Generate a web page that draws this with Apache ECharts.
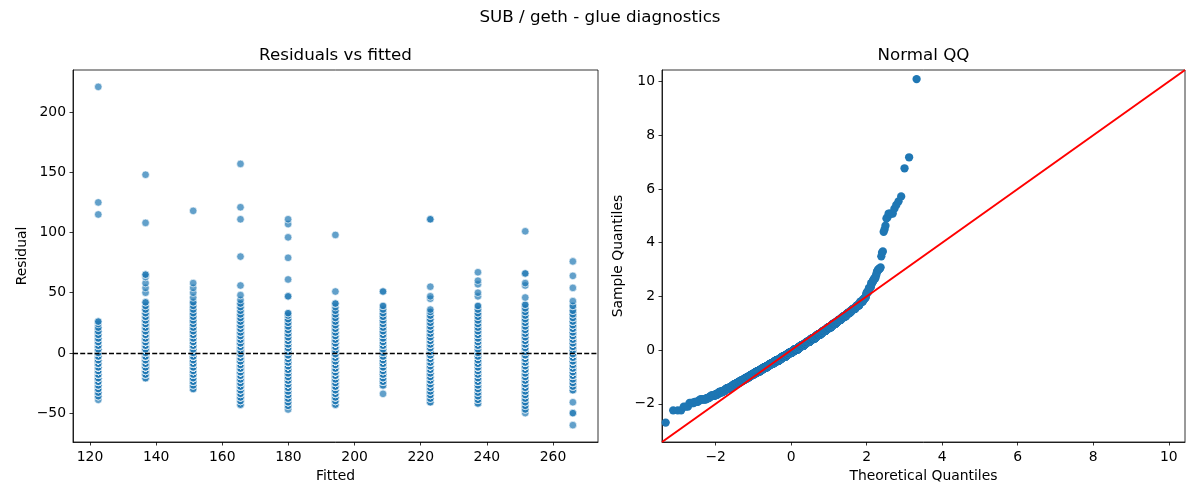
<!DOCTYPE html>
<html>
<head>
<meta charset="utf-8">
<script src="https://cdn.jsdelivr.net/npm/echarts@6/dist/echarts.min.js"></script>
<style>
html, body {margin: 0; padding: 0; background: #fff;}
#chart {width: 1200px; height: 500px;}
</style>
</head>
<body>
<div id="chart"></div>
<script>
// fitted value of every column in the left panel
const fitted = [122.5, 136.8, 151.2, 165.5, 179.9, 194.2, 208.6, 222.9, 237.3, 251.6, 266.0]

// residuals of each column, as [residual, number of points at that level]
const res122 = [[-39, 1], [-36, 2], [-33, 3], [-30, 4], [-27, 6], [-24, 8], [-21, 10], [-18, 12], [-15, 14], [-12, 15], [-9, 16], [-6, 16], [-3, 15], [0, 14], [3, 12], [6, 10], [9, 8], [12, 6], [15, 4], [18, 3], [21, 2], [24, 1], [26, 2], [115, 1], [125, 1], [221, 1]]
const res137 = [[-21, 2], [-18, 4], [-15, 6], [-12, 8], [-9, 10], [-6, 12], [-3, 14], [0, 15], [3, 15], [6, 15], [9, 14], [12, 13], [15, 12], [18, 10], [21, 9], [24, 8], [27, 6], [30, 5], [33, 4], [36, 3], [39, 2], [42, 2], [50, 1], [54, 1], [58, 1], [63, 1], [65, 2], [108, 1], [148, 1]]
const res151 = [[-30, 2], [-27, 3], [-24, 5], [-21, 7], [-18, 9], [-15, 11], [-12, 13], [-9, 14], [-6, 15], [-3, 15], [0, 15], [3, 14], [6, 13], [9, 12], [12, 10], [15, 9], [18, 8], [21, 6], [24, 5], [27, 4], [30, 3], [33, 3], [36, 2], [39, 2], [42, 2], [46, 1], [50, 1], [54, 1], [58, 1], [118, 1]]
const res166 = [[-43, 2], [-40, 3], [-37, 4], [-34, 5], [-31, 6], [-28, 7], [-25, 8], [-22, 9], [-19, 10], [-16, 11], [-13, 12], [-10, 12], [-7, 12], [-4, 12], [-1, 12], [2, 11], [5, 10], [8, 9], [11, 8], [14, 7], [17, 6], [20, 5], [23, 5], [26, 4], [29, 3], [32, 3], [35, 2], [38, 2], [41, 2], [44, 1], [48, 1], [56, 1], [80, 1], [111, 1], [121, 1], [157, 1]]
const res180 = [[-47, 1], [-44, 2], [-41, 4], [-38, 5], [-35, 6], [-32, 7], [-29, 8], [-26, 9], [-23, 10], [-20, 11], [-17, 12], [-14, 13], [-11, 13], [-8, 13], [-5, 13], [-2, 12], [1, 11], [4, 10], [7, 9], [10, 8], [13, 7], [16, 6], [19, 5], [22, 4], [25, 3], [28, 3], [31, 2], [33, 2], [47, 2], [61, 1], [79, 1], [96, 1], [107, 1], [111, 1]]
const res194 = [[-43, 2], [-40, 3], [-37, 4], [-34, 5], [-31, 6], [-28, 7], [-25, 8], [-22, 9], [-19, 10], [-16, 11], [-13, 12], [-10, 12], [-7, 13], [-4, 13], [-1, 12], [2, 11], [5, 10], [8, 9], [11, 8], [14, 7], [17, 6], [20, 5], [23, 4], [26, 3], [29, 3], [32, 2], [35, 2], [38, 1], [41, 2], [51, 1], [98, 1]]
const res209 = [[-34, 1], [-27, 2], [-24, 4], [-21, 6], [-18, 8], [-15, 10], [-12, 12], [-9, 13], [-6, 14], [-3, 14], [0, 14], [3, 13], [6, 12], [9, 11], [12, 10], [15, 9], [18, 8], [21, 7], [24, 6], [27, 5], [30, 4], [33, 3], [36, 2], [39, 2], [51, 2]]
const res223 = [[-41, 2], [-38, 3], [-35, 4], [-32, 5], [-29, 6], [-26, 7], [-23, 8], [-20, 9], [-17, 10], [-14, 11], [-11, 12], [-8, 12], [-5, 12], [-2, 12], [1, 12], [4, 11], [7, 10], [10, 9], [13, 8], [16, 7], [19, 6], [22, 5], [25, 4], [28, 3], [31, 3], [34, 2], [36, 1], [45, 1], [47, 1], [55, 1], [111, 2]]
const res237 = [[-42, 2], [-39, 3], [-36, 4], [-33, 5], [-30, 6], [-27, 7], [-24, 8], [-21, 9], [-18, 10], [-15, 11], [-12, 12], [-9, 12], [-6, 12], [-3, 12], [0, 12], [3, 11], [6, 10], [9, 9], [12, 9], [15, 8], [18, 7], [21, 6], [24, 5], [27, 4], [30, 3], [33, 3], [36, 2], [39, 2], [47, 1], [50, 1], [57, 1], [60, 1], [67, 1]]
const res252 = [[-50, 1], [-47, 2], [-44, 2], [-41, 3], [-38, 4], [-35, 5], [-32, 6], [-29, 7], [-26, 8], [-23, 9], [-20, 10], [-17, 11], [-14, 11], [-11, 12], [-8, 12], [-5, 12], [-2, 12], [1, 11], [4, 11], [7, 10], [10, 9], [13, 8], [16, 7], [19, 6], [22, 5], [25, 4], [28, 4], [31, 3], [34, 3], [37, 2], [40, 2], [46, 1], [56, 1], [58, 1], [66, 2], [101, 1]]
const res266 = [[-60, 1], [-50, 2], [-41, 1], [-31, 2], [-28, 3], [-25, 5], [-22, 7], [-19, 9], [-16, 11], [-13, 12], [-10, 13], [-7, 14], [-4, 14], [-1, 14], [2, 13], [5, 12], [8, 11], [11, 10], [14, 9], [17, 8], [20, 7], [23, 6], [26, 5], [29, 4], [32, 3], [35, 2], [39, 2], [43, 1], [54, 1], [64, 1], [76, 1]]
const residualGroups = [res122, res137, res151, res166, res180, res194, res209, res223, res237, res252, res266]

// tick labels
const fittedTicks = [120, 140, 160, 180, 200, 220, 240, 260]
const residualTicks = [-50, 0, 50, 100, 150, 200]
const qqTicks = [-2, 0, 2, 4, 6, 8, 10]

// axis ranges
const fittedRange = [114.86, 273.6]
const residualRange = [-74, 235]
const qqRange = [-3.42, 10.43]

const FONT = 'DejaVu Sans'

// points of the left panel, one per observation
const scatterData = []
const allResiduals = []
residualGroups.forEach((group, i) => {
    group.forEach(([r, count]) => {
        for (let k = 0; k < count; k++) {
            scatterData.push([fitted[i], r])
            allResiduals.push(r)
        }
    })
})

// inverse normal cdf (Acklam)
const normPpf = p => {
    const a = [-3.969683028665376e+01, 2.209460984245205e+02, -2.759285104469687e+02, 1.383577518672690e+02, -3.066479806614716e+01, 2.506628277459239e+00]
    const b = [-5.447609879822406e+01, 1.615858368580409e+02, -1.556989798598866e+02, 6.680131188771972e+01, -1.328068155288572e+01]
    const c = [-7.784894002430293e-03, -3.223964580411365e-01, -2.400758277161838e+00, -2.549732539343734e+00, 4.374664141464968e+00, 2.938163982698783e+00]
    const d = [7.784695709041462e-03, 3.224671290700398e-01, 2.445134137142996e+00, 3.754408661907416e+00]
    const pl = 0.02425
    if (p < pl) {
        const q = Math.sqrt(-2 * Math.log(p))
        return (((((c[0] * q + c[1]) * q + c[2]) * q + c[3]) * q + c[4]) * q + c[5]) / ((((d[0] * q + d[1]) * q + d[2]) * q + d[3]) * q + 1)
    }
    if (p > 1 - pl) {
        const q = Math.sqrt(-2 * Math.log(1 - p))
        return -(((((c[0] * q + c[1]) * q + c[2]) * q + c[3]) * q + c[4]) * q + c[5]) / ((((d[0] * q + d[1]) * q + d[2]) * q + d[3]) * q + 1)
    }
    const q = p - 0.5
    const r = q * q
    return (((((a[0] * r + a[1]) * r + a[2]) * r + a[3]) * r + a[4]) * r + a[5]) * q / (((((b[0] * r + b[1]) * r + b[2]) * r + b[3]) * r + b[4]) * r + 1)
}

// QQ points: standardized sorted residuals against normal quantiles
const n = allResiduals.length
const mean = allResiduals.reduce((s, v) => s + v, 0) / n
const sd = Math.sqrt(allResiduals.reduce((s, v) => s + (v - mean) ** 2, 0) / (n - 1))
const sorted = allResiduals.slice().sort((x, y) => x - y)
const qqData = sorted.map((v, i) => [normPpf((i + 1) / (n + 1)), (v - mean) / sd])

const minus = v => String(v).replace('-', '\u2212')

const axisCommon = {
    type: 'value',
    splitLine: {show: false},
    axisLine: {show: true, onZero: false, lineStyle: {color: '#000', width: 0.8}},
    nameLocation: 'middle',
    nameTextStyle: {color: '#000', fontSize: 13.9, fontFamily: FONT},
}
const tickStyle = ticks => ({show: true, length: 3.5, customValues: ticks, lineStyle: {color: '#000', width: 0.8}})
const labelStyle = (ticks, margin) => ({customValues: ticks, color: '#000', fontSize: 13.9, fontFamily: FONT, margin, formatter: minus})

const chart = echarts.init(document.getElementById('chart'))
chart.setOption({
    animation: false,
    backgroundColor: '#fff',
    graphic: [
        {type: 'text', x: 600, y: 18, style: {text: 'SUB / geth - glue diagnostics', align: 'center', verticalAlign: 'middle', font: '16.7px "DejaVu Sans"', fill: '#000'}},
        {type: 'text', x: 335.5, y: 56, style: {text: 'Residuals vs fitted', align: 'center', verticalAlign: 'middle', font: '16.7px "DejaVu Sans"', fill: '#000'}},
        {type: 'text', x: 923.5, y: 56, style: {text: 'Normal QQ', align: 'center', verticalAlign: 'middle', font: '16.7px "DejaVu Sans"', fill: '#000'}},
    ],
    grid: [
        {left: 73, top: 70, width: 525, height: 372, show: true, borderColor: '#000', borderWidth: 0.8},
        {left: 662, top: 70, width: 523, height: 372, show: true, borderColor: '#000', borderWidth: 0.8},
    ],
    xAxis: [
        {...axisCommon, gridIndex: 0, min: fittedRange[0], max: fittedRange[1], name: 'Fitted', nameGap: 27,
            axisTick: tickStyle(fittedTicks), axisLabel: labelStyle(fittedTicks, 8)},
        {...axisCommon, gridIndex: 1, min: qqRange[0], max: qqRange[1], name: 'Theoretical Quantiles', nameGap: 27,
            axisTick: tickStyle(qqTicks), axisLabel: labelStyle(qqTicks, 8)},
    ],
    yAxis: [
        {...axisCommon, gridIndex: 0, min: residualRange[0], max: residualRange[1], name: 'Residual', nameGap: 44,
            axisTick: tickStyle(residualTicks), axisLabel: labelStyle(residualTicks, 7)},
        {...axisCommon, gridIndex: 1, min: qqRange[0], max: qqRange[1], name: 'Sample Quantiles', nameGap: 37,
            axisTick: tickStyle(qqTicks), axisLabel: labelStyle(qqTicks, 7)},
    ],
    series: [
        {
            type: 'scatter',
            xAxisIndex: 0,
            yAxisIndex: 0,
            data: scatterData,
            symbolSize: 7.6,
            progressive: 0,
            itemStyle: {color: '#1f77b4', opacity: 0.7, borderColor: '#fff', borderWidth: 0.9},
            markLine: {
                silent: true,
                symbol: 'none',
                label: {show: false},
                lineStyle: {color: '#000', width: 1.3, type: [5, 2.2]},
                data: [{yAxis: 0}],
            },
        },
        {
            type: 'scatter',
            xAxisIndex: 1,
            yAxisIndex: 1,
            data: qqData,
            symbolSize: 8.3,
            progressive: 0,
            itemStyle: {color: '#1f77b4', opacity: 1},
        },
        {
            type: 'line',
            xAxisIndex: 1,
            yAxisIndex: 1,
            data: [[qqRange[0], qqRange[0]], [qqRange[1], qqRange[1]]],
            showSymbol: false,
            silent: true,
            lineStyle: {color: '#ff0000', width: 2},
        },
    ],
})
</script>
</body>
</html>
